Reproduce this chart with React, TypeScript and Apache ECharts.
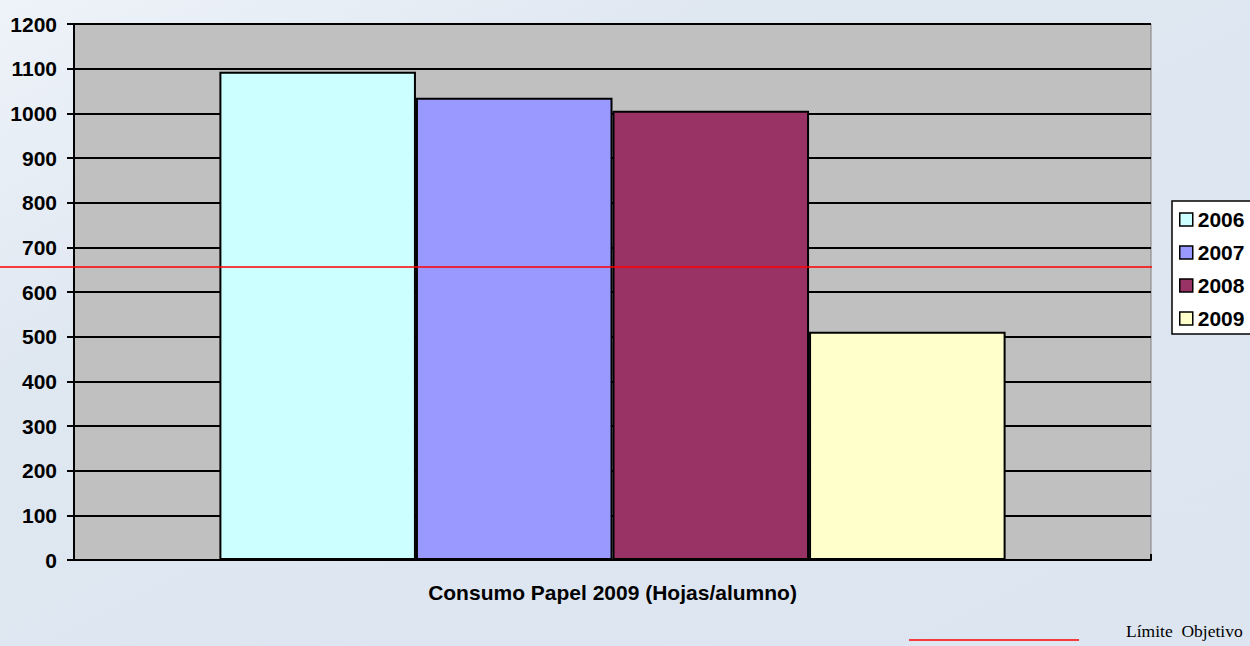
import React, { useEffect, useRef } from "react";
import * as echarts from "echarts";

const categories = [""];
const seriesNames = ["2006", "2007", "2008", "2009"];
const seriesValues = [[1093], [1035], [1006], [511]];
const seriesColors = ["#CCFFFF", "#9999FF", "#993366", "#FFFFCC"];
const limitValue = 656;
const yTicks = { min: 0, max: 1200, interval: 100 };
const xAxisTitle = "Consumo Papel 2009 (Hojas/alumno)";
const limitLabel = "Límite  Objetivo";

export default function App() {
  const ref = useRef<HTMLDivElement>(null);
  useEffect(() => {
    if (!ref.current) return;
    const chart = echarts.init(ref.current, undefined, { renderer: "svg" });
    const font = "'Liberation Sans', Arial, sans-serif";
    chart.setOption({
      animation: false,
      backgroundColor: {
        type: "linear", x: 0, y: 0, x2: 1, y2: 1,
        colorStops: [
          { offset: 0, color: "#eef3f9" },
          { offset: 0.3, color: "#dfe7f1" },
          { offset: 1, color: "#dce5f0" },
        ],
      },
      grid: {
        left: 74, top: 24, right: 99, bottom: 86,
        show: true, backgroundColor: "#C0C0C0", borderColor: "#808080", borderWidth: 1,
      },
      legend: {
        orient: "vertical", left: 1172, top: 201,
        data: seriesNames,
        backgroundColor: "#ffffff",
        borderColor: "#000", borderWidth: 1.5,
        padding: [8, 30, 5, 7],
        itemGap: 12, itemWidth: 13, itemHeight: 13,
        icon: "rect",
        itemStyle: { borderColor: "#000", borderWidth: 1.5 },
        textStyle: { fontFamily: font, fontWeight: "bold", fontSize: 21, lineHeight: 21, color: "#000" },
      },
      xAxis: {
        type: "category", data: categories,
        name: xAxisTitle, nameLocation: "middle", nameGap: 22,
        nameTextStyle: { fontFamily: font, fontWeight: "bold", fontSize: 21, color: "#000" },
        axisLine: { lineStyle: { color: "#000", width: 2 } },
        axisTick: { show: true, inside: true, length: 6, lineStyle: { color: "#000", width: 2 } },
        axisLabel: { show: false },
      },
      yAxis: {
        type: "value", min: yTicks.min, max: yTicks.max, interval: yTicks.interval,
        axisLine: { show: true, lineStyle: { color: "#000", width: 2 } },
        axisTick: { show: true, length: 7, lineStyle: { color: "#000", width: 2 } },
        axisLabel: {
          fontFamily: font, fontWeight: "bold", fontSize: 21, color: "#000", margin: 17,
          formatter: (v: number) => String(v),
        },
        splitLine: { lineStyle: { color: "#000", width: 2 } },
      },
      series: seriesNames.map((name, i) => ({
        name, type: "bar", data: seriesValues[i],
        barGap: "0%", barCategoryGap: "27%",
        itemStyle: { color: seriesColors[i], borderColor: "#000", borderWidth: 2 },
      })),
    });
    const y = chart.convertToPixel({ yAxisIndex: 0 }, limitValue) as number;
    chart.setOption({
      graphic: [
        { type: "line", shape: { x1: 0, y1: y, x2: 1152, y2: y }, style: { stroke: "#ff0000", lineWidth: 1.5 }, z: 100 },
        { type: "line", shape: { x1: 909, y1: 640, x2: 1079, y2: 640 }, style: { stroke: "#ff0000", lineWidth: 1.5 } },
        { type: "text", x: 1126, y: 622, style: { text: limitLabel, font: "17.5px 'Liberation Serif', 'Times New Roman', serif", fill: "#000" } },
      ],
    });
    return () => chart.dispose();
  }, []);
  return <div ref={ref} style={{ position: "fixed", left: 0, top: 0, width: 1250, height: 646 }} />;
}
